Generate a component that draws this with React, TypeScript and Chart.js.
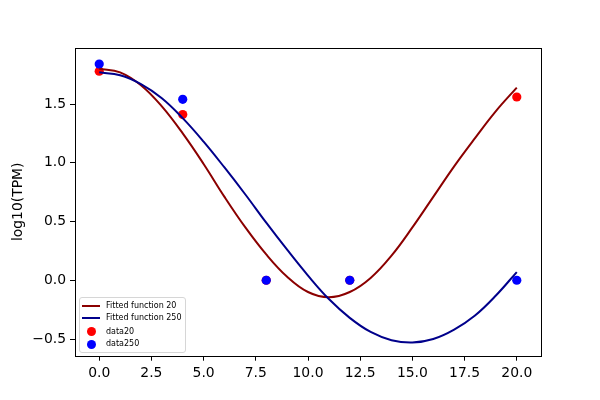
import { useEffect, useRef } from 'react';
import { Chart, registerables } from 'chart.js';

Chart.register(...registerables);

// fitted curves at whole x values
const fitX = [0, 1, 2, 3, 4, 5, 6, 7, 8, 9, 10, 11, 12, 13, 14, 15, 16, 17, 18, 19, 20];
const fit20 = [1.8, 1.77, 1.66, 1.48, 1.25, 0.99, 0.71, 0.45, 0.22, 0.03, -0.1, -0.145, -0.1, 0.02, 0.21, 0.45, 0.71, 0.97, 1.21, 1.44, 1.64];
const fit250 = [1.77, 1.745, 1.67, 1.55, 1.38, 1.18, 0.96, 0.73, 0.49, 0.26, 0.04, -0.16, -0.32, -0.44, -0.51, -0.53, -0.5, -0.42, -0.3, -0.13, 0.07];

// measured points
const sampleX = [0, 4, 8, 12, 20];
const data20 = [1.78, 1.41, 0, 0, 1.56];
const data250 = [1.84, 1.54, 0, 0, 0];

const xTicks = [0, 2.5, 5, 7.5, 10, 12.5, 15, 17.5, 20];
const yTicks = [-0.5, 0, 0.5, 1, 1.5];

const FONT = 'DejaVu Sans';

const toXY = (xs: number[], ys: number[]) => xs.map((x, i) => ({ x, y: ys[i] }));
const fmt = (v: number) => {
  const s = Math.abs(v).toFixed(1);
  return v < 0 ? '\u2212' + s : s;
};

const frame = {
  id: 'frame',
  afterDraw(chart: any) {
    const { ctx, chartArea: a } = chart;
    ctx.save();
    ctx.strokeStyle = '#000';
    ctx.lineWidth = 1;
    ctx.strokeRect(Math.round(a.left) + 0.5, Math.round(a.top) + 0.5, Math.round(a.right - a.left), Math.round(a.bottom - a.top));
    ctx.restore();
  },
};

export default function App() {
  const canvasRef = useRef<HTMLCanvasElement>(null);

  useEffect(() => {
    const el = canvasRef.current;
    if (!el) return;

    const chart = new Chart(el, {
      type: 'scatter',
      data: {
        datasets: [
          {
            label: 'Fitted function 250',
            data: toXY(fitX, fit250),
            showLine: true,
            borderColor: '#00008b',
            borderWidth: 2,
            pointRadius: 0,
            tension: 0.4,
            order: 1,
          },
          {
            label: 'Fitted function 20',
            data: toXY(fitX, fit20),
            showLine: true,
            borderColor: '#8b0000',
            borderWidth: 2,
            pointRadius: 0,
            tension: 0.4,
            order: 2,
          },
          {
            label: 'data250',
            data: toXY(sampleX, data250),
            backgroundColor: '#0000ff',
            borderWidth: 0,
            pointRadius: 4.6,
            order: 3,
          },
          {
            label: 'data20',
            data: toXY(sampleX, data20),
            backgroundColor: '#ff0000',
            borderWidth: 0,
            pointRadius: 4.6,
            order: 4,
          },
        ],
      },
      options: {
        responsive: true,
        maintainAspectRatio: false,
        animation: false,
        layout: { padding: { left: 0, right: 59, top: 48, bottom: 0 } },
        plugins: {
          legend: { display: false },
          tooltip: { enabled: false },
        },
        scales: {
          x: {
            type: 'linear',
            min: -1.16,
            max: 21.16,
            border: { display: false },
            grid: { display: true, drawOnChartArea: false, tickLength: 5, color: '#000', tickWidth: 1 },
            ticks: {
              color: '#000',
              padding: 4,
              font: { family: FONT, size: 13.9 },
              callback: (v: any) => fmt(Number(v)),
            },
            afterBuildTicks: (s: any) => {
              s.ticks = xTicks.map((value) => ({ value }));
            },
            afterFit: (s: any) => {
              s.height = 44.3;
            },
          },
          y: {
            type: 'linear',
            min: -0.642,
            max: 1.977,
            border: { display: false },
            grid: { display: true, drawOnChartArea: false, tickLength: 5, color: '#000', tickWidth: 1 },
            ticks: {
              color: '#000',
              padding: 4,
              font: { family: FONT, size: 13.9 },
              callback: (v: any) => fmt(Number(v)),
            },
            title: {
              display: true,
              text: 'log10(TPM)',
              color: '#000',
              font: { family: FONT, size: 13.9 },
              padding: { top: 10, bottom: 0 },
            },
            afterBuildTicks: (s: any) => {
              s.ticks = yTicks.map((value) => ({ value }));
            },
            afterFit: (s: any) => {
              s.width = 75;
            },
          },
        },
      },
      plugins: [frame],
    });

    return () => {
      chart.destroy();
    };
  }, []);

  const rows = [
    { kind: 'line', color: '#8b0000', text: 'Fitted function 20', cy: 7.5 },
    { kind: 'line', color: '#00008b', text: 'Fitted function 250', cy: 19.5 },
    { kind: 'dot', color: '#ff0000', text: 'data20', cy: 33.5 },
    { kind: 'dot', color: '#0000ff', text: 'data250', cy: 46 },
  ];

  return (
    <div style={{ position: 'fixed', left: 0, top: 0, width: 600, height: 400, background: '#fff' }}>
      <canvas ref={canvasRef} style={{ width: '100%', height: '100%' }} />
      <div
        style={{
          position: 'absolute',
          left: 79,
          top: 297,
          width: 105,
          height: 54,
          border: '1px solid #d6d6d6',
          borderRadius: 3,
          background: 'rgba(255,255,255,0.8)',
          fontFamily: FONT,
          fontSize: 8,
          color: '#000',
        }}
      >
        {rows.map((r) => (
          <div key={r.text}>
            {r.kind === 'line' ? (
              <div style={{ position: 'absolute', left: 2, top: r.cy - 1, width: 18, height: 2, background: r.color }} />
            ) : (
              <div
                style={{
                  position: 'absolute',
                  left: 6.5,
                  top: r.cy - 4.5,
                  width: 9,
                  height: 9,
                  borderRadius: '50%',
                  background: r.color,
                }}
              />
            )}
            <span style={{ position: 'absolute', left: 26, top: r.cy - 5, lineHeight: '10px', whiteSpace: 'nowrap' }}>{r.text}</span>
          </div>
        ))}
      </div>
    </div>
  );
}
